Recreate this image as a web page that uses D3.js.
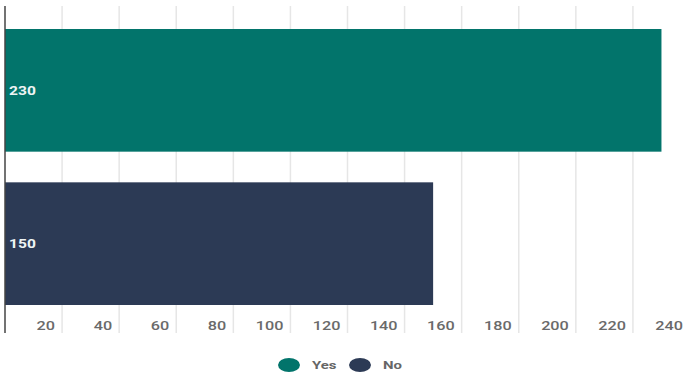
<!DOCTYPE html>
<html><head><meta charset="utf-8">
<script src="https://cdn.jsdelivr.net/npm/d3@7"></script>
<style>body{margin:0;background:#fff;}svg{display:block;font-family:Roboto,"Open Sans",sans-serif;}</style>
</head><body><svg id="c" width="684" height="379"></svg>
<script>
const categories = ["Yes", "No"];
const values = [230, 150];
const colors = ["#02746b", "#2c3a55"];
const tickValues = [20, 40, 60, 80, 100, 120, 140, 160, 180, 200, 220, 240];

const svg = d3.select("#c");
const x = d3.scaleLinear().domain([0, 240]).range([5, 690]);
const y = d3.scaleBand().domain(categories).range([6, 328]).paddingInner(0.2).paddingOuter(0.15);
const sx = 1.3; // horizontal stretch of text as in the reference

// gridlines
svg.append("g").selectAll("line").data(tickValues).join("line")
  .attr("x1", d => x(d)).attr("x2", d => x(d))
  .attr("y1", 6).attr("y2", 333)
  .attr("stroke", "#e6e6e6").attr("stroke-width", 1.5);

// bars
svg.append("g").selectAll("rect").data(categories).join("rect")
  .attr("x", x(0)).attr("y", d => y(d))
  .attr("width", (d, i) => x(values[i]) - x(0))
  .attr("height", y.bandwidth())
  .attr("fill", (d, i) => colors[i]);

// value labels
svg.append("g").selectAll("text").data(categories).join("text")
  .attr("transform", d => `translate(9,${y(d) + y.bandwidth() / 2}) scale(${sx},1)`)
  .attr("dy", "0.35em")
  .attr("fill", "#eef4f4").attr("font-size", 12).attr("font-weight", 700)
  .text((d, i) => values[i]);

// axis labels
svg.append("g").selectAll("text").data(tickValues).join("text")
  .attr("transform", d => `translate(${x(d) - 7},326) scale(${sx},1)`)
  .attr("dy", "0.35em").attr("text-anchor", "end")
  .attr("fill", "#6a6a6a").attr("font-size", 12.5).attr("font-weight", 500)
  .text(d => d);

// left axis line
svg.append("line").attr("x1", 5).attr("x2", 5).attr("y1", 6).attr("y2", 333)
  .attr("stroke", "#444").attr("stroke-width", 1.5);

// legend
const legendX = [289, 360];
const lg = svg.append("g").selectAll("g").data(categories).join("g")
  .attr("transform", (d, i) => `translate(${legendX[i]},365)`);
lg.append("ellipse").attr("rx", 11).attr("ry", 7).attr("fill", (d, i) => colors[i]);
lg.append("text").attr("transform", `translate(23,0) scale(${sx},1)`).attr("dy", "0.35em")
  .attr("fill", "#666").attr("font-size", 11.5).attr("font-weight", 700)
  .text(d => d);
</script></body></html>
